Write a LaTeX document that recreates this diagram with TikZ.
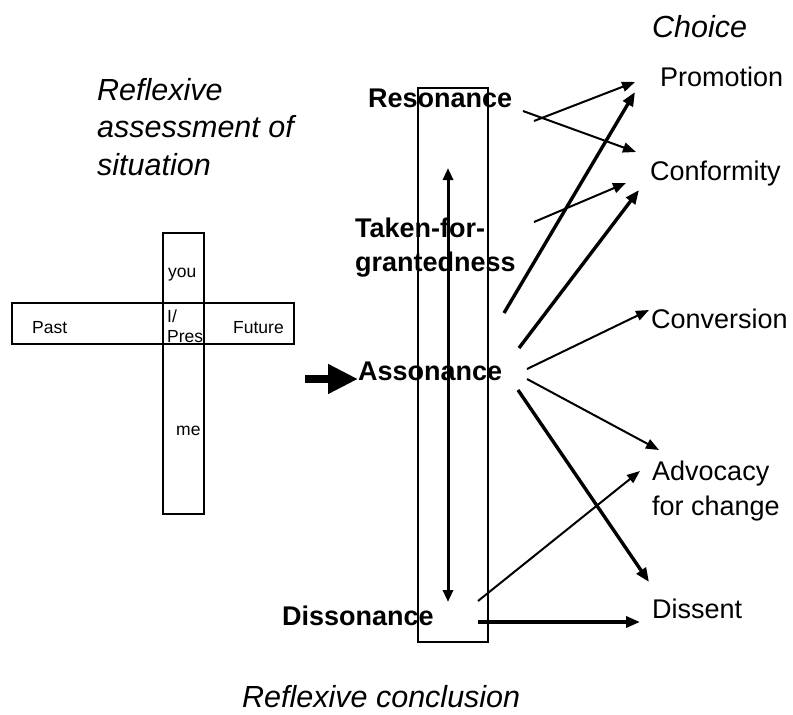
\documentclass[tikz,border=0pt]{standalone}
\usepackage{fontspec}
\setmainfont{Liberation Sans}
\usetikzlibrary{arrows.meta}
\begin{document}
\begin{tikzpicture}[x=1pt,y=-1pt,
  txt/.style={anchor=base west,inner sep=0pt,font=\fontsize{27}{33}\selectfont},
  bld/.style={anchor=base west,inner sep=0pt,font=\fontsize{27}{33}\selectfont\bfseries},
  ital/.style={anchor=base west,inner sep=0pt,font=\fontsize{30.5}{37}\selectfont\itshape},
  small/.style={anchor=base west,inner sep=0pt,font=\fontsize{17.5}{20}\selectfont},
  box/.style={draw,line width=1.2pt},
  thin/.style={line width=2pt,-{Triangle[length=13pt,width=10pt]}},
  thick/.style={line width=3.4pt,-{Triangle[length=14pt,width=11pt]}}]
\useasboundingbox (0,0) rectangle (793,715);

% headings
\node[ital] (choice) at (652,37) {Choice};
\node[ital] (ra1) at (97,100) {Reflexive};
\node[ital] (ra2) at (97,137) {assessment of};
\node[ital] (ra3) at (97,175) {situation};
\node[ital] (concl) at (242,707) {Reflexive conclusion};

% the cross of time and self
\draw[box] (12,303) rectangle (294,344);
\draw[box] (163,233) rectangle (204,514);
\node[small] (you) at (168,277) {you};
\node[small] (past) at (32,333) {Past};
\node[small] (future) at (233,333) {Future};
\node[small] (iself) at (167,322) {I/};
\node[small] (pres) at (167,342) {Pres};
\node[small] (me) at (176,435) {me};

% scale of assessment
\draw[box] (418,88) rectangle (488,642);
\node[bld] (reson) at (368,107) {Resonance};
\node[bld] (taken1) at (355,237) {Taken-for-};
\node[bld] (taken2) at (355,271) {grantedness};
\node[bld] (asson) at (358,380) {Assonance};
\node[bld] (disson) at (282,625) {Dissonance};

% choices
\node[txt] (promo) at (660,86) {Promotion};
\node[txt] (conf) at (650,180) {Conformity};
\node[txt] (conv) at (651,328) {Conversion};
\node[txt] (adv1) at (652,480) {Advocacy};
\node[txt] (adv2) at (652,515) {for change};
\node[txt] (dissent) at (652,618) {Dissent};

% arrow end points
\coordinate (vtop) at (448,168);
\coordinate (vbot) at (448,602);
\coordinate (inL) at (305,379);
\coordinate (inR) at (358,379);
\coordinate (r1) at (523,111);
\coordinate (r2) at (534,121);
\coordinate (t1) at (534,222);
\coordinate (a1) at (504,313);
\coordinate (a2) at (519,348);
\coordinate (a3) at (527,369);
\coordinate (a4) at (527,379);
\coordinate (a5) at (518,390);
\coordinate (d1) at (478,601);
\coordinate (d2) at (478,622);
\coordinate (pIn1) at (635,82);
\coordinate (pIn2) at (635,92);
\coordinate (cIn1) at (636,152);
\coordinate (cIn2) at (626,183);
\coordinate (cIn3) at (639,190);
\coordinate (vIn) at (649,310);
\coordinate (adIn1) at (659,450);
\coordinate (adIn2) at (640,471);
\coordinate (dsIn1) at (649,582);
\coordinate (dsIn2) at (640,622);

% arrows
\draw[line width=3pt,{Triangle[length=12pt,width=10pt]}-{Triangle[length=12pt,width=10pt]}] (vtop) -- (vbot);
\draw[line width=8pt,-{Triangle[length=30pt,width=28pt]}] (inL) -- (inR);
\draw[thin] (r1) -- (cIn1);
\draw[thin] (r2) -- (pIn1);
\draw[thin] (t1) -- (cIn2);
\draw[thick] (a1) -- (pIn2);
\draw[thick] (a2) -- (cIn3);
\draw[thin] (a3) -- (vIn);
\draw[thin] (a4) -- (adIn1);
\draw[thick] (a5) -- (dsIn1);
\draw[thin] (d1) -- (adIn2);
\draw[thick] (d2) -- (dsIn2);
\end{tikzpicture}
\end{document}
